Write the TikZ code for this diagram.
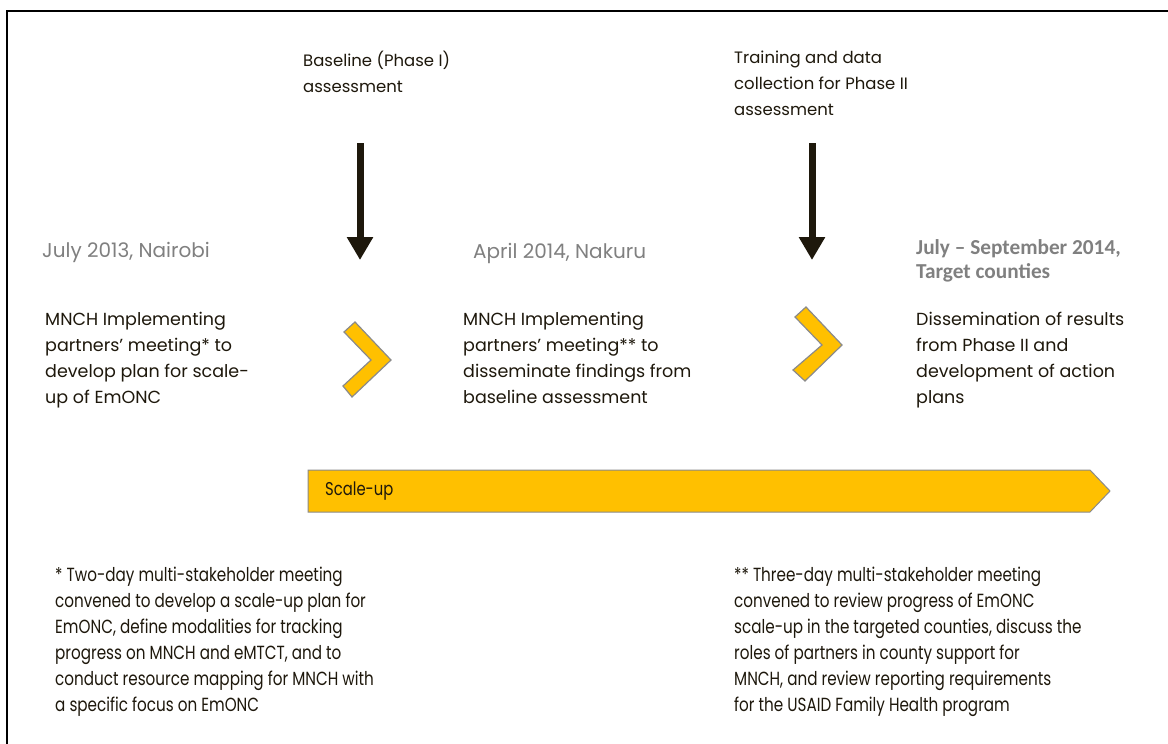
\documentclass[tikz,border=0pt]{standalone}
\usepackage{fontspec}
\setmainfont{Poppins}
\newfontfamily\condfont[FakeStretch=0.8]{Poppins}
\newfontfamily\calfont{Carlito}
\usetikzlibrary{arrows.meta}
\definecolor{txt}{HTML}{1E180C}
\definecolor{datec}{HTML}{808080}
\definecolor{gold}{HTML}{FFC000}
\definecolor{edgec}{HTML}{8A8A8A}
\tikzset{
  body/.style={anchor=north west, inner sep=0pt, align=left, text=txt, font=\fontsize{17.5}{26}\selectfont},
  toplbl/.style={anchor=north west, inner sep=0pt, align=left, text=txt, font=\fontsize{16.5}{26}\selectfont},
  datelbl/.style={anchor=north west, inner sep=0pt, align=left, text=datec, font=\fontsize{20}{24}\selectfont},
  datebold/.style={anchor=north west, inner sep=0pt, align=left, text=datec, font=\calfont\bfseries\fontsize{21.3}{24}\selectfont},
  note/.style={anchor=north west, inner sep=0pt, align=left, text=txt, font=\condfont\fontsize{19}{26}\selectfont},
  downarrow/.style={line width=7pt, draw=txt, -{Triangle[width=25pt,length=23pt]}},
  chevron/.style={fill=gold, draw=edgec, line width=1.2pt, line join=miter},
}
\begin{document}
\begin{tikzpicture}[x=1pt,y=-1pt]
\useasboundingbox (0,0) rectangle (1168,744);
\fill[white] (0,0) rectangle (1168,744);
\draw[line width=2pt] (1175,11) -- (7,11) -- (7,750);

% top labels
\node[toplbl] (base) at (303,51) {Baseline (Phase I)\\assessment};
\node[toplbl] (train) at (734,51) {Training and data\\collection for Phase II\\assessment};

% arrows
\coordinate (a1s) at (360,143);
\coordinate (a1e) at (360,260);
\coordinate (a2s) at (812,143);
\coordinate (a2e) at (812,260);
\draw[downarrow] (a1s) -- (a1e);
\draw[downarrow] (a2s) -- (a2e);

% dates
\node[datelbl] (d1) at (42,242) {July 2013, Nairobi};
\node[datelbl] (d2) at (473,243) {April 2014, Nakuru};
\node[datebold] (d3) at (916,239) {July – September 2014,\\Target counties};

% bodies
\node[body] (b1) at (45,312) {MNCH Implementing\\partners’ meeting* to\\develop plan for scale-\\up of EmONC};
\node[body] (b2) at (463,312) {MNCH Implementing\\partners’ meeting** to\\disseminate findings from\\baseline assessment};
\node[body] (b3) at (916,312) {Dissemination of results\\from Phase II and\\development of action\\plans};

% chevrons
\draw[chevron] (355,322) -- (391,360) -- (352,397) -- (343,386) -- (371,360) -- (344,332) -- cycle;
\draw[chevron] (806,307) -- (842,345) -- (805,381) -- (793,370) -- (822,345) -- (795,317) -- cycle;

% scale-up bar
\draw[fill=gold, draw=edgec, line width=1pt] (308,470) -- (1090,470) -- (1110,491) -- (1090,512) -- (308,512) -- cycle;
\node[note, anchor=west, font=\condfont\fontsize{18.5}{26}\selectfont] (scale) at (325,491) {Scale-up};

% footnotes
\node[note] (n1) at (55,567) {* Two-day multi-stakeholder meeting\\convened to develop a scale-up plan for\\EmONC, define modalities for tracking\\progress on MNCH and eMTCT, and to\\conduct resource mapping for MNCH with\\a specific focus on EmONC};
\node[note] (n2) at (734,567) {** Three-day multi-stakeholder meeting\\convened to review progress of EmONC\\scale-up in the targeted counties, discuss the\\roles of partners in county support for\\MNCH, and review reporting requirements\\for the USAID Family Health program};
\end{tikzpicture}
\end{document}
